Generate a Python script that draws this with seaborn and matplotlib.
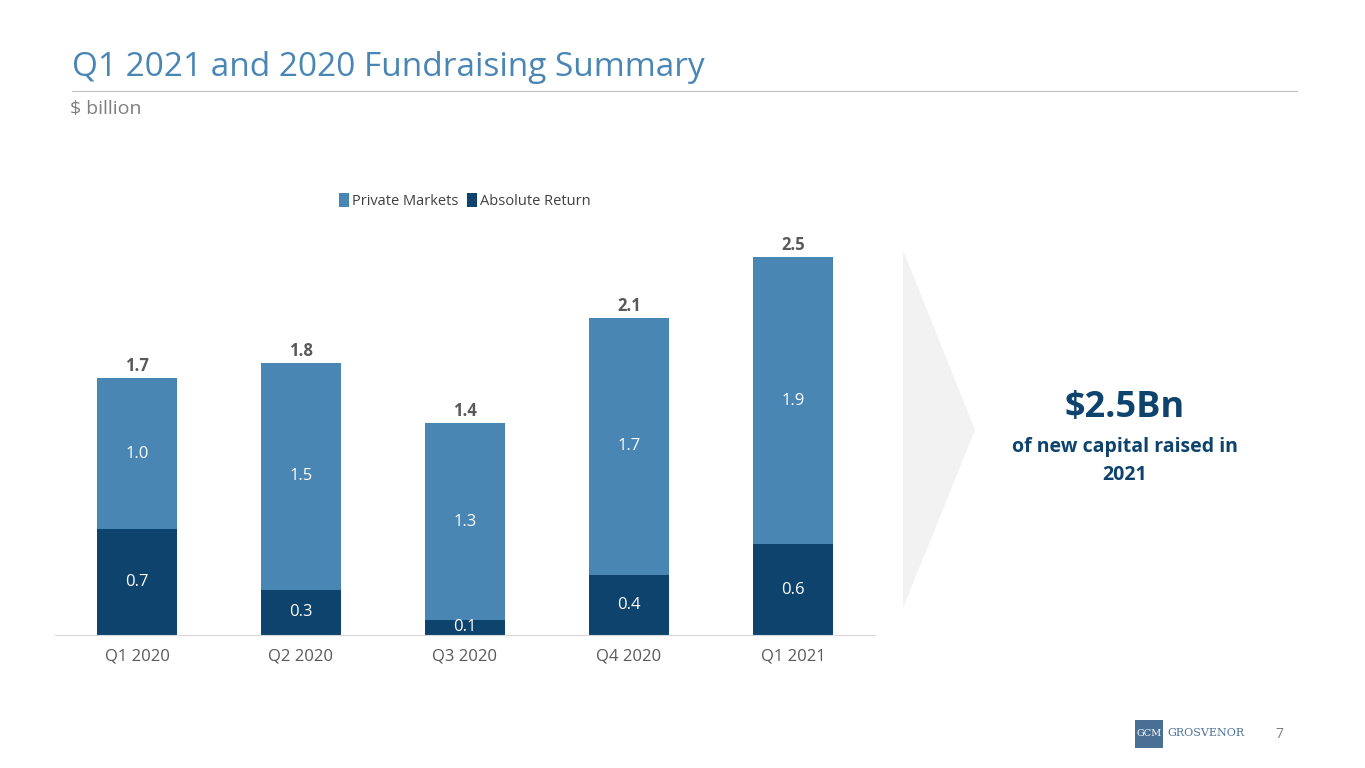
import matplotlib
matplotlib.use("Agg")
import matplotlib.pyplot as plt
import seaborn as sns
import pandas as pd
from matplotlib.patches import Polygon, Rectangle

quarters = ["Q1 2020", "Q2 2020", "Q3 2020", "Q4 2020", "Q1 2021"]
absolute_return = [0.7, 0.3, 0.1, 0.4, 0.6]
private_markets = [1.0, 1.5, 1.3, 1.7, 1.9]
totals = [1.7, 1.8, 1.4, 2.1, 2.5]

PM_COLOR = "#4a86b4"
AR_COLOR = "#0d436d"
TITLE_COLOR = "#4a86b4"

sns.set_style("white")
plt.rcParams["font.family"] = ["Open Sans", "DejaVu Sans"]

df = pd.DataFrame({"quarter": quarters, "ar": absolute_return,
                   "pm": private_markets, "total": totals})
df["stack"] = df["ar"] + df["pm"]

fig = plt.figure(figsize=(13.65, 7.68), dpi=100)
ax = fig.add_axes([55 / 1365, 133 / 768, 820 / 1365, 408 / 768])

sns.barplot(data=df, x="quarter", y="stack", color=PM_COLOR, width=0.49,
            saturation=1, ax=ax, label="Private Markets", linewidth=0)
sns.barplot(data=df, x="quarter", y="ar", color=AR_COLOR, width=0.49,
            saturation=1, ax=ax, label="Absolute Return", linewidth=0)

for i, r in df.iterrows():
    ax.text(i, r["ar"] / 2, f"{r['ar']:.1f}", ha="center", va="center",
            color="white", fontsize=12)
    ax.text(i, r["ar"] + r["pm"] / 2, f"{r['pm']:.1f}", ha="center",
            va="center", color="white", fontsize=12)
    ax.text(i, r["stack"] + 0.02, f"{r['total']:.1f}", ha="center",
            va="bottom", color="#595959", fontsize=12, fontweight="bold")

ax.set_ylim(0, 2.7)
ax.set_xlim(-0.5, 4.5)
ax.set_xlabel("")
ax.set_ylabel("")
ax.set_yticks([])
sns.despine(ax=ax, left=True)
ax.spines["bottom"].set_color("#d9d9d9")
ax.tick_params(axis="x", length=0, labelsize=12, labelcolor="#595959", pad=10)

ax.legend(loc="upper center", bbox_to_anchor=(0.5, 1.115), ncol=2, frameon=False,
          fontsize=10.5, handlelength=0.7, handleheight=1.1, handletextpad=0.2,
          columnspacing=0.6, labelcolor="#404040")

# header
fig.text(72 / 1365, 1 - 68 / 768, "Q1 2021 and 2020 Fundraising Summary",
         fontsize=24, color=TITLE_COLOR, va="center")
fig.add_artist(plt.Line2D([72 / 1365, 1297 / 1365], [1 - 91 / 768] * 2,
                          color="#bfbfbf", lw=0.8))
fig.text(70 / 1365, 1 - 109 / 768, "$ billion", fontsize=14, color="#7f7f7f",
         va="center")

# chevron
fig.add_artist(Polygon([(903 / 1365, 1 - 250 / 768), (975 / 1365, 1 - 430 / 768),
                        (903 / 1365, 1 - 608 / 768)], closed=True,
                       facecolor="#f2f2f2", edgecolor="none",
                       transform=fig.transFigure))

fig.text(1125 / 1365, 1 - 408 / 768, "$2.5Bn", fontsize=26, fontweight="bold",
         color=AR_COLOR, ha="center", va="center")
fig.text(1125 / 1365, 1 - 461 / 768, "of new capital raised in\n2021",
         fontsize=14, fontweight="bold", color=AR_COLOR, ha="center",
         va="center", linespacing=1.5)

# footer
fig.add_artist(Rectangle((1135 / 1365, 1 - 748 / 768), 28 / 1365, 28 / 768,
                         facecolor="#4a6f95", edgecolor="none",
                         transform=fig.transFigure))
fig.text(1149 / 1365, 1 - 733 / 768, "GCM", fontsize=7, color="white",
         ha="center", va="center", family="DejaVu Serif")
fig.text(1167 / 1365, 1 - 733 / 768, "GROSVENOR", fontsize=8, color="#4a6f95",
         va="center", family="DejaVu Serif")
fig.text(1283 / 1365, 1 - 735 / 768, "7", fontsize=10, color="#7f7f7f",
         ha="right", va="center")

fig.savefig("out.png", dpi=100)
